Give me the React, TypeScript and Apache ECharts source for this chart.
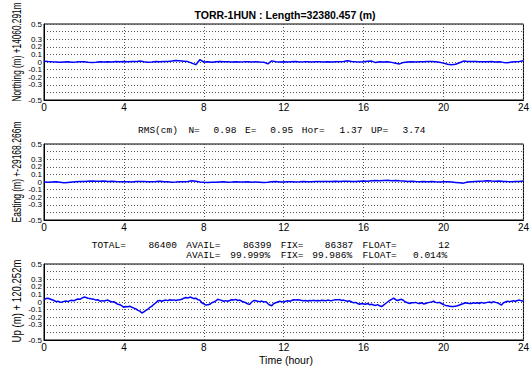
import React, { useEffect, useRef } from "react";
import * as echarts from "echarts";

// Axis limits shared by the three panels
const HOUR_RANGE = [0, 24];
const HOUR_TICK = 4;
const RESID_RANGE = [-0.5, 0.5];
const RESID_TICK = 0.1;

const TITLE = "TORR-1HUN : Length=32380.457 (m)";
const Y_NAMES = ["Northing (m) +14060.291m", "Easting (m) +-29168.266m", "Up (m) + 120.252m"];
const X_NAME = "Time (hour)";

// Solution statistics printed between the panels
const RMS_KEYS = ["N", "E", "Hor", "UP"];
const RMS_CM = [0.98, 0.95, 1.37, 3.74];
const EPOCH_KEYS = ["TOTAL", "AVAIL", "FIX", "FLOAT"];
const EPOCH_COUNTS = [86400, 86399, 86387, 12];
const RATE_KEYS = ["AVAIL", "FIX", "FLOAT"];
const RATE_PCT = [99.999, 99.986, 0.014];

// Horizontal residuals (m), one sample every 0.2 h
const NE_STEP_H = 0.2;
const NORTH = [
  0.01, 0.005, 0.002, 0.0, -0.003, 0.0, 0.002, -0.002, 0.0, 0.004,
  0.002, -0.003, -0.005, -0.002, 0.003, 0.001, 0.004, 0.0, 0.005, 0.002,
  0.006, 0.002, 0.008, 0.005, 0.012, 0.003, -0.002, 0.001, 0.005, 0.003,
  0.008, 0.006, 0.012, 0.02, 0.015, 0.01, 0.005, -0.015, -0.035, 0.03,
  0.0, 0.004, -0.002, 0.003, 0.005, 0.002, 0.004, 0.0, 0.003, 0.001,
  0.002, 0.004, 0.001, 0.003, 0.0, -0.002, -0.025, 0.015, 0.002, 0.0,
  0.002, 0.0, 0.003, 0.005, 0.001, 0.002, 0.004, 0.0, 0.002, 0.004,
  0.001, 0.003, 0.0, 0.004, 0.002, 0.006, 0.015, 0.008, 0.002, 0.0,
  0.003, 0.01, 0.012, -0.008, 0.002, 0.0, 0.003, -0.005, -0.015, -0.025,
  -0.005, 0.0, 0.003, 0.001, 0.004, 0.002, 0.006, 0.008, 0.003, -0.002,
  -0.015, -0.03, -0.035, -0.03, -0.01, 0.012, 0.008, 0.005, 0.006, 0.003,
  0.004, 0.002, 0.005, 0.0, 0.003, -0.005, -0.01, 0.0, 0.003, 0.006,
  0.015,
];
const EAST = [
  0.0, -0.002, 0.0, 0.002, -0.003, -0.01, -0.005, 0.0, 0.004, 0.006,
  0.008, 0.01, 0.012, 0.009, 0.01, 0.012, 0.008, 0.01, 0.006, 0.004,
  0.002, 0.003, 0.0, 0.005, 0.008, 0.006, 0.004, 0.002, 0.005, 0.01,
  0.004, 0.002, -0.002, 0.0, 0.003, 0.002, 0.008, 0.015, 0.01, 0.0,
  -0.003, -0.005, -0.002, -0.004, 0.0, 0.002, -0.002, 0.0, 0.003, 0.001,
  0.0, 0.002, -0.003, 0.0, -0.002, -0.005, -0.003, 0.002, 0.005, 0.0,
  0.0, 0.002, 0.004, 0.0, 0.002, 0.005, 0.003, 0.004, 0.006, 0.005,
  0.007, 0.006, 0.008, 0.01, 0.007, 0.009, 0.01, 0.008, 0.006, 0.01,
  0.012, 0.01, 0.015, 0.02, 0.018, 0.02, 0.022, 0.018, 0.02, 0.015,
  0.012, 0.008, 0.01, 0.006, 0.004, 0.008, 0.003, 0.006, 0.002, 0.0,
  0.004, 0.002, 0.0, -0.005, -0.01, -0.015, 0.0, 0.004, 0.008, 0.01,
  0.012, 0.015, 0.012, 0.01, 0.012, 0.008, 0.005, 0.003, 0.008, 0.006,
  0.012,
];

// Vertical residuals (m), one sample every 0.1 h
const UP_STEP_H = 0.1;
const UP = [
  0.03, 0.045, 0.05, 0.04, 0.03, 0.02, 0.005, 0.01, -0.002, 0.0,
  0.008, 0.012, 0.005, 0.018, 0.022, 0.015, 0.03, 0.04, 0.035, 0.05,
  0.065, 0.058, 0.05, 0.045, 0.038, 0.035, 0.025, 0.03, 0.01, 0.018,
  0.012, 0.02, 0.025, 0.01, 0.0, 0.005, -0.015, -0.03, -0.035, -0.05,
  -0.07, -0.06, -0.062, -0.055, -0.07, -0.08, -0.09, -0.11, -0.12, -0.145,
  -0.13, -0.11, -0.095, -0.07, -0.055, -0.03, -0.01, 0.015, 0.02, 0.01,
  0.02, 0.025, 0.018, 0.03, 0.022, 0.028, 0.02, 0.025, 0.03, 0.035,
  0.05, 0.06, 0.052, 0.065, 0.055, 0.045, 0.05, 0.03, 0.025, -0.01,
  -0.025, -0.04, -0.035, -0.03, -0.01, 0.0, 0.015, 0.035, 0.028, 0.02,
  0.01, 0.018, 0.01, 0.02, 0.03, 0.025, 0.035, 0.02, 0.025, 0.01,
  0.0, -0.01, -0.025, -0.03, 0.0, 0.02, 0.015, 0.01, 0.005, 0.012,
  0.0, 0.005, -0.02, -0.04, -0.05, -0.02, -0.01, 0.0, 0.01, 0.005,
  0.0, 0.01, 0.015, 0.01, 0.02, 0.03, 0.025, 0.03, 0.025, 0.02,
  0.015, 0.02, 0.012, 0.02, 0.018, 0.022, 0.015, 0.02, 0.015, 0.022,
  0.02, 0.015, 0.025, 0.02, 0.018, 0.025, 0.03, 0.028, 0.032, 0.02,
  0.025, 0.015, 0.01, 0.015, 0.0, -0.01, -0.005, -0.02, -0.03, -0.02,
  -0.025, -0.03, -0.02, -0.035, -0.03, -0.04, -0.045, -0.035, -0.05, -0.06,
  -0.04, -0.02, 0.0, 0.02, 0.035, 0.05, 0.03, 0.02, 0.03, 0.035,
  0.02, 0.0, -0.01, -0.02, -0.01, -0.01, -0.005, -0.015, -0.02, -0.01,
  -0.025, -0.02, -0.01, -0.005, 0.0, 0.01, -0.005, -0.01, -0.005, -0.02,
  -0.035, -0.045, -0.05, -0.055, -0.06, -0.06, -0.055, -0.05, -0.04, -0.03,
  -0.02, -0.01, -0.015, -0.02, -0.02, -0.01, -0.015, -0.01, -0.02, -0.005,
  -0.015, -0.01, -0.005, 0.0, -0.01, 0.005, -0.005, -0.01, -0.025, -0.04,
  -0.01, 0.0, 0.01, 0.005, 0.01, 0.015, 0.01, 0.02, 0.025, 0.015,
  0.01,
];

const SANS = "'Liberation Sans', Arial, Helvetica, sans-serif";
const MONO = "'Liberation Mono', 'Courier New', monospace";
const MONO_SIZE = 9.5;
// Column pitch of the fixed-width statistics lines
const MONO_COL = 6.3;

const PANEL_LEFT = 44;
const PANEL_WIDTH = 483;
const PANEL_HEIGHT = 76;
const PANEL_TOPS = [24, 144, 264];

const toPairs = (values: number[], step: number) =>
  values.map((v, i) => [Math.round(i * step * 1000) / 1000, v]);

const rmsLine =
  "RMS(cm)" + RMS_KEYS.map((k, i) => ` ${k}=${RMS_CM[i].toFixed(2).padStart(6)}`).join("");
const epochLine = EPOCH_KEYS.map((k, i) => `${k}=${String(EPOCH_COUNTS[i]).padStart(8)}`).join(" ");
const rateLine =
  " ".repeat(15) + RATE_KEYS.map((k, i) => `${k}=${RATE_PCT[i].toFixed(3).padStart(7)}%`).join(" ");

// Split a fixed-width line into words placed by column
function monoWords(line: string, x0: number, y: number) {
  const out: any[] = [];
  const re = /\S+/g;
  let m: RegExpExecArray | null;
  while ((m = re.exec(line))) {
    out.push({
      type: "text",
      x: x0 + m.index * MONO_COL,
      y,
      silent: true,
      style: {
        text: m[0],
        font: `${MONO_SIZE}px ${MONO}`,
        lineHeight: 8,
        fill: "#000",
        textAlign: "left",
        textVerticalAlign: "middle",
      },
    });
  }
  return out;
}

export default function App() {
  const ref = useRef<HTMLDivElement>(null);

  useEffect(() => {
    if (!ref.current) return;
    const chart = echarts.init(ref.current, undefined, { renderer: "svg" });

    const series = [toPairs(NORTH, NE_STEP_H), toPairs(EAST, NE_STEP_H), toPairs(UP, UP_STEP_H)];
    const dotted = { color: "#555", width: 1, type: [1, 2] as number[] };

    const yNameCenters = [52, 172, 301];
    const yNameScale = [0.69, 0.71, 0.8];

    const option: any = {
      animation: false,
      backgroundColor: "#fff",
      grid: PANEL_TOPS.map((top) => ({
        left: PANEL_LEFT,
        top,
        width: PANEL_WIDTH,
        height: PANEL_HEIGHT,
        show: true,
        borderColor: "#000",
        borderWidth: 1,
        backgroundColor: "transparent",
      })),
      xAxis: PANEL_TOPS.map((_, k) => ({
        gridIndex: k,
        type: "value",
        min: HOUR_RANGE[0],
        max: HOUR_RANGE[1],
        interval: HOUR_TICK,
        axisLine: { show: true, onZero: false, lineStyle: { color: "#000", width: 1 } },
        axisTick: { show: false },
        axisLabel: {
          color: "#000",
          fontSize: 10,
          fontFamily: SANS,
          lineHeight: 10,
          margin: 2,
          showMinLabel: true,
          showMaxLabel: true,
        },
        splitLine: { show: true, lineStyle: dotted },
      })),
      yAxis: PANEL_TOPS.map((_, k) => ({
        gridIndex: k,
        type: "value",
        min: RESID_RANGE[0],
        max: RESID_RANGE[1],
        interval: RESID_TICK,
        axisLine: { show: true, onZero: false, lineStyle: { color: "#000", width: 1 } },
        axisTick: { show: false },
        axisLabel: {
          color: "#000",
          fontSize: 8,
          fontFamily: SANS,
          lineHeight: 7,
          margin: 2,
          showMinLabel: true,
          showMaxLabel: true,
          formatter: (v: number) => String(Math.round(v * 10) / 10),
        },
        splitLine: { show: true, lineStyle: dotted },
      })),
      series: series.map((data, k) => ({
        type: "line",
        xAxisIndex: k,
        yAxisIndex: k,
        data,
        symbol: "none",
        showSymbol: false,
        silent: true,
        lineStyle: { color: "#0000ff", width: 1.5 },
      })),
      graphic: [
        {
          type: "text",
          x: 285,
          y: 14.5,
          silent: true,
          style: {
            text: TITLE,
            font: `bold 10.5px ${SANS}`,
            fill: "#000",
            textAlign: "center",
            textVerticalAlign: "middle",
          },
        },
        ...Y_NAMES.map((name, k) => ({
          type: "text",
          x: 17,
          y: yNameCenters[k],
          rotation: Math.PI / 2,
          scaleX: yNameScale[k],
          silent: true,
          style: {
            text: name,
            font: `12px ${SANS}`,
            fill: "#000",
            textAlign: "center",
            textVerticalAlign: "middle",
          },
        })),
        {
          type: "text",
          x: 286,
          y: 360,
          silent: true,
          style: {
            text: X_NAME,
            font: `10.5px ${SANS}`,
            lineHeight: 10,
            fill: "#000",
            textAlign: "center",
            textVerticalAlign: "middle",
          },
        },
        ...monoWords(rmsLine, 138, 130.7),
        ...monoWords(epochLine, 91.7, 245),
        ...monoWords(rateLine, 91.7, 255),
      ],
    };

    chart.setOption(option);
    return () => chart.dispose();
  }, []);

  return (
    <div
      ref={ref}
      style={{ position: "fixed", left: 0, top: 0, width: 532, height: 369, background: "#fff" }}
    />
  );
}
